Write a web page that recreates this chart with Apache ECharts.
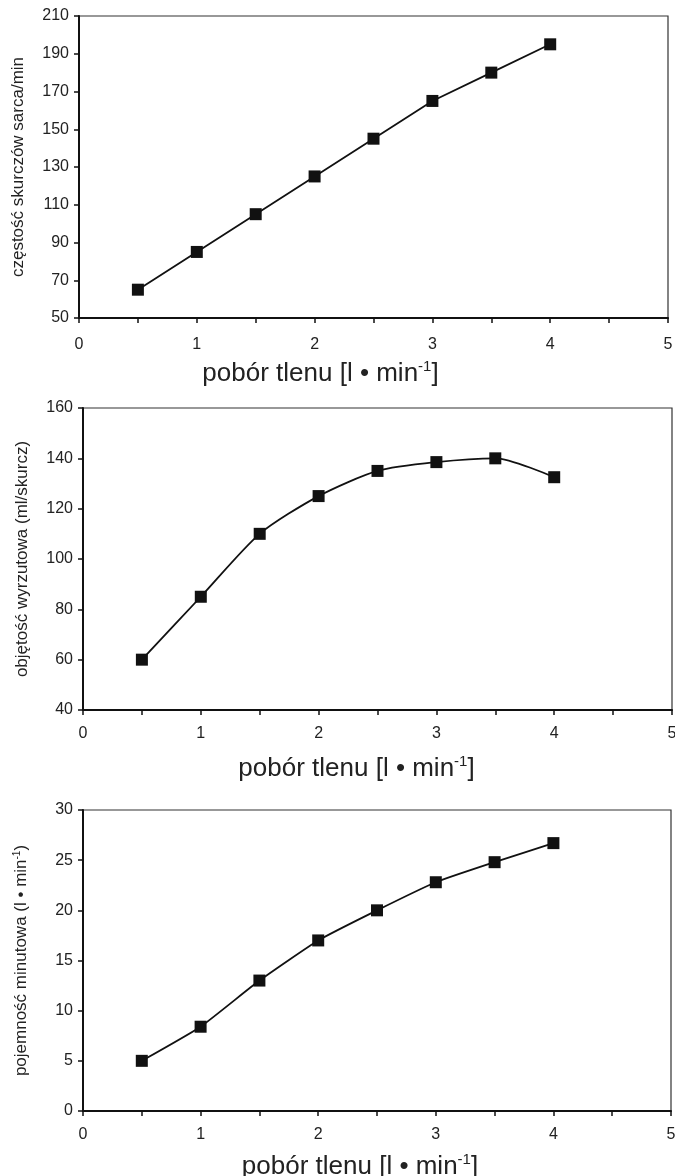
<!DOCTYPE html>
<html>
<head>
<meta charset="utf-8">
<script src="https://cdn.jsdelivr.net/npm/echarts@6/dist/echarts.min.js"></script>
<style>
  html, body { margin: 0; padding: 0; background: #fff; }
  #chart { width: 675px; height: 1176px; }
</style>
</head>
<body>
<div id="chart"></div>
<script>
// pobór tlenu [l/min]
const oxygenUptake = [0.5, 1, 1.5, 2, 2.5, 3, 3.5, 4]
const heartRate = [65, 85, 105, 125, 145, 165, 180, 195]
const strokeVolume = [60, 85, 110, 125, 135, 138.5, 140, 132.5]
const cardiacOutput = [5, 8.4, 13, 17, 20, 22.8, 24.8, 26.7]

const xTickLabels = [0, 1, 2, 3, 4, 5]
const yRanges = [
    { min: 50, max: 210, interval: 20 },
    { min: 40, max: 160, interval: 20 },
    { min: 0, max: 30, interval: 5 }
]

const font = 'Liberation Sans, Arial, sans-serif'
const ink = '#111'
const textColor = '#222'

const grids = [
    { left: 79, top: 16, width: 589, height: 302 },
    { left: 83, top: 408, width: 589, height: 302 },
    { left: 83, top: 810, width: 588, height: 301 }
]

const xLabelMargin = [19, 16, 16]
const xNameGap = [41, 44, 41]
const xNameShift = [106, 42, 34]
const yNames = [
    'częstość skurczów sarca/min',
    'objętość wyrzutowa (ml/skurcz)',
    '{a|pojemność minutowa (l • min}{s|-1}{a|)}'
]
const yNameGap = [52, 52, 52]

const chart = echarts.init(document.getElementById('chart'), null, { renderer: 'canvas' })

const xAxes = grids.map((g, i) => ({
    type: 'value',
    gridIndex: i,
    min: 0,
    max: 5,
    interval: 0.5,
    axisLine: { show: true, onZero: false, lineStyle: { color: ink, width: 2 } },
    axisTick: { show: true, inside: false, length: 5, lineStyle: { color: ink, width: 1.5 } },
    splitLine: { show: false },
    axisLabel: {
        margin: xLabelMargin[i],
        fontFamily: font,
        fontSize: 16,
        color: textColor,
        formatter: v => xTickLabels.includes(v) ? String(v) : ''
    },
    name: '{a|pobór tlenu [l • min}{s|-1}{a|]}',
    nameLocation: 'middle',
    nameGap: xNameGap[i],
    nameTextStyle: {
        padding: [0, xNameShift[i], 0, 0],
        rich: {
            a: { fontFamily: font, fontSize: 26, color: textColor, lineHeight: 30 },
            s: { fontFamily: font, fontSize: 15, color: textColor, verticalAlign: 'top', lineHeight: 30, padding: [0, 0, 10, 0] }
        }
    }
}))

const yAxes = grids.map((g, i) => ({
    type: 'value',
    gridIndex: i,
    min: yRanges[i].min,
    max: yRanges[i].max,
    interval: yRanges[i].interval,
    axisLine: { show: true, onZero: false, lineStyle: { color: ink, width: 2 } },
    axisTick: { show: true, inside: false, length: 5, lineStyle: { color: ink, width: 1.5 } },
    splitLine: { show: false },
    axisLabel: { margin: 10, fontFamily: font, fontSize: 16, color: textColor },
    name: yNames[i],
    nameLocation: 'middle',
    nameGap: yNameGap[i],
    nameTextStyle: {
        fontFamily: font,
        fontSize: 17,
        color: textColor,
        rich: {
            a: { fontFamily: font, fontSize: 17, color: textColor },
            s: { fontFamily: font, fontSize: 10, color: textColor, padding: [0, 0, 9, 0] }
        }
    }
}))

function lineSeries(values, i, smooth) {
    return {
        type: 'line',
        xAxisIndex: i,
        yAxisIndex: i,
        data: oxygenUptake.map((x, k) => [x, values[k]]),
        smooth: smooth,
        symbol: 'rect',
        symbolSize: 12,
        lineStyle: { color: ink, width: 1.8 },
        itemStyle: { color: ink },
        animation: false
    }
}

const option = {
    backgroundColor: '#fff',
    animation: false,
    grid: grids.map(g => ({
        ...g,
        show: true,
        borderColor: '#333',
        borderWidth: 1.2,
        backgroundColor: 'transparent',
        outerBoundsMode: 'none'
    })),
    xAxis: xAxes,
    yAxis: yAxes,
    series: [
        lineSeries(heartRate, 0, false),
        lineSeries(strokeVolume, 1, 0.25),
        lineSeries(cardiacOutput, 2, 0.15)
    ]
}
chart.setOption(option)
</script>
</body>
</html>
